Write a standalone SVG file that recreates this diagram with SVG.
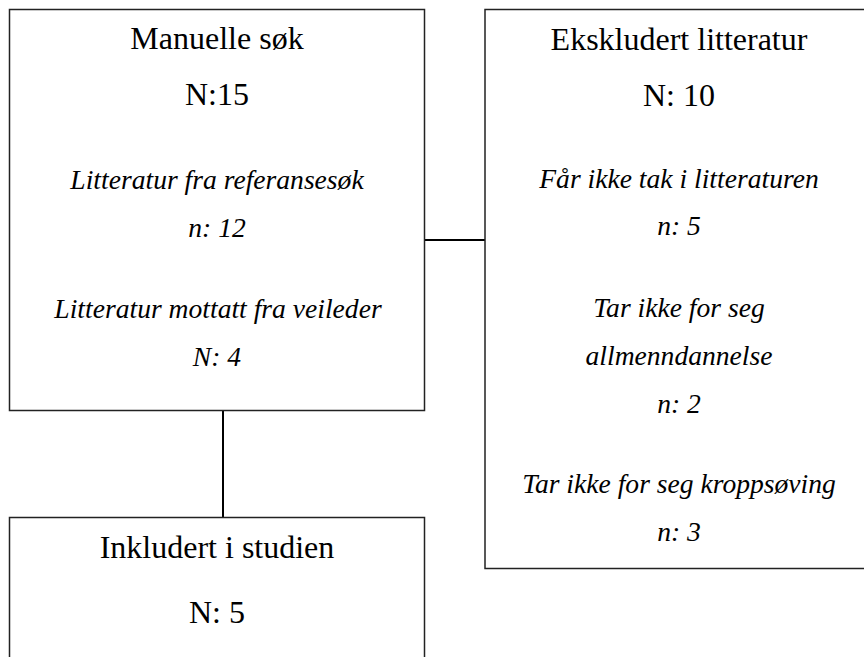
<svg xmlns="http://www.w3.org/2000/svg" width="864" height="657" viewBox="0 0 864 657">
<style>
.box{fill:#fff;stroke:#222;stroke-width:1.5}
.t{font-family:"Liberation Serif","Times New Roman",serif;font-size:32px;fill:#000;text-anchor:middle}
.i{font-family:"Liberation Serif","Times New Roman",serif;font-size:27.6px;font-style:italic;fill:#000;text-anchor:middle}
.c{stroke:#000;stroke-width:2;fill:none}
</style>
<rect width="864" height="657" fill="#fff"/>
<g id="connectors">
<line class="c" x1="424.5" y1="240" x2="485" y2="240"/>
<line class="c" x1="223" y1="410.5" x2="223" y2="517.5"/>
</g>
<g id="manuelle">
<rect class="box" x="9.5" y="9.5" width="415" height="401"/>
<text class="t" x="217" y="49">Manuelle søk</text>
<text class="t" x="217" y="105">N:15</text>
<text class="i" x="217" y="189">Litteratur fra referansesøk</text>
<text class="i" x="217" y="237">n: 12</text>
<text class="i" x="218" y="318">Litteratur mottatt fra veileder</text>
<text class="i" x="217" y="366">N: 4</text>
</g>
<g id="ekskludert">
<rect class="box" x="485" y="9.5" width="400" height="559"/>
<text class="t" x="679" y="50">Ekskludert litteratur</text>
<text class="t" x="679" y="106">N: 10</text>
<text class="i" x="679" y="188">Får ikke tak i litteraturen</text>
<text class="i" x="679" y="235">n: 5</text>
<text class="i" x="679" y="317">Tar ikke for seg</text>
<text class="i" x="679" y="365">allmenndannelse</text>
<text class="i" x="679" y="413">n: 2</text>
<text class="i" x="679" y="493">Tar ikke for seg kroppsøving</text>
<text class="i" x="679" y="541">n: 3</text>
</g>
<g id="inkludert">
<rect class="box" x="9.5" y="517.5" width="415" height="160"/>
<text class="t" x="217" y="558">Inkludert i studien</text>
<text class="t" x="217" y="623">N: 5</text>
</g>
</svg>
